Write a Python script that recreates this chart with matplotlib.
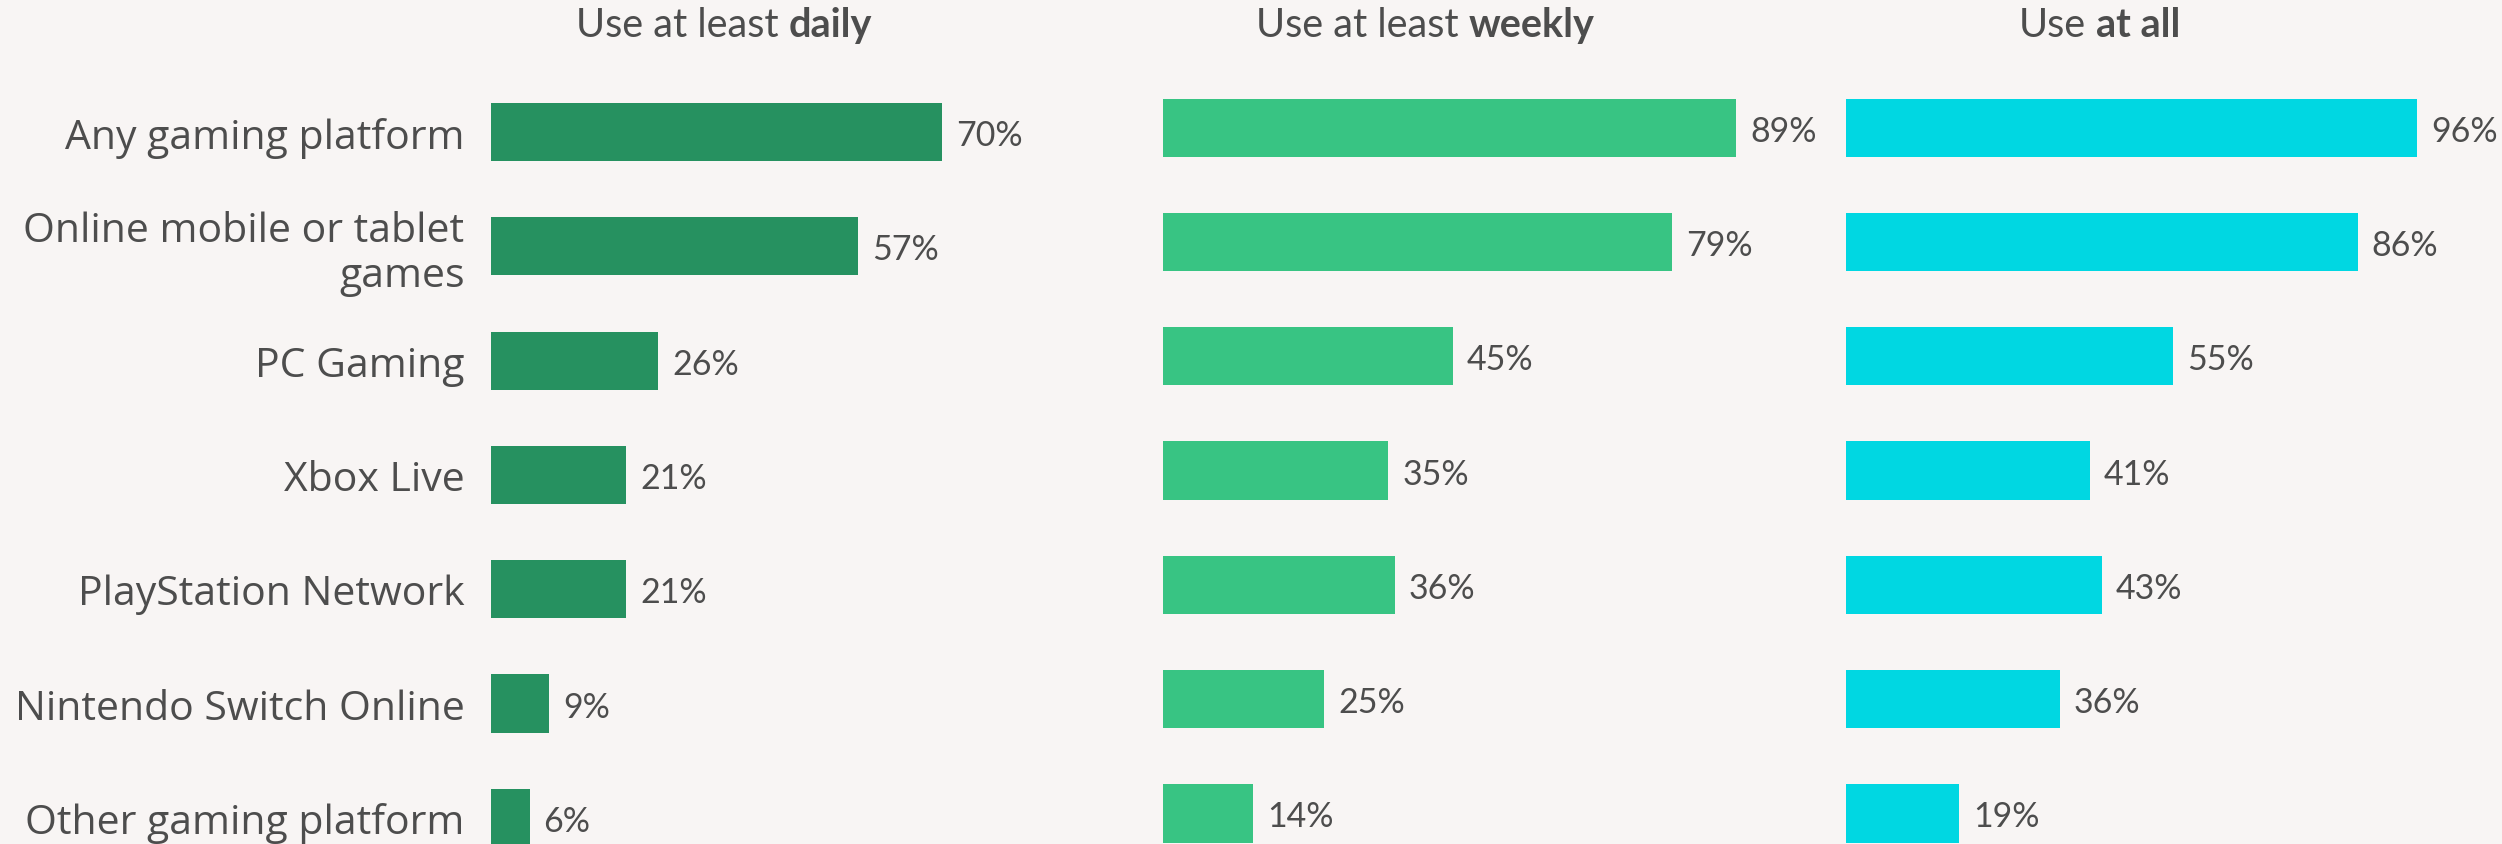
import matplotlib.pyplot as plt

# categories, top to bottom
platforms = ["Any gaming platform", "Online mobile or tablet\ngames", "PC Gaming",
             "Xbox Live", "PlayStation Network", "Nintendo Switch Online",
             "Other gaming platform"]

# % of respondents
daily = [70, 57, 26, 21, 21, 9, 6]
weekly = [89, 79, 45, 35, 36, 25, 14]
at_all = [96, 86, 55, 41, 43, 36, 19]

title_parts = [("Use at least", "daily"), ("Use at least", "weekly"), ("Use", "at all")]
colors = ["#269160", "#38C483", "#00D7E2"]

BG = "#F8F5F4"
TXT = "#4D4D4D"
W, H = 2502, 845

fig = plt.figure(figsize=(W / 100, H / 100), dpi=100, facecolor=BG)


def px_axes(left, top, width, height):
    # position axes with pixel coords measured from top-left
    return fig.add_axes([left / W, 1 - (top + height) / H, width / W, height / H])


pitch = 114.3
panels = [
    # left px, top px, width px (xlim 0..100)
    (491, 71.5 + 4.4, 644, daily),
    (1163, 71.5, 644, weekly),
    (1846, 71.5, 595, at_all),
]

rows = list(range(len(platforms)))
axes = []
for i, (left, top, width, vals) in enumerate(panels):
    ax = px_axes(left, top, width, pitch * len(platforms))
    ax.set_facecolor("none")
    ax.barh(rows, vals, height=0.51, color=colors[i])
    ax.set_xlim(0, 100)
    ax.set_ylim(len(platforms) - 0.5, -0.5)
    for r, v in zip(rows, vals):
        ax.annotate(f"{v}%", (v, r), xytext=(10, 0), textcoords="offset points",
                    va="center_baseline", ha="left", fontsize=24.5,
                    family=["Lato", "DejaVu Sans"], color=TXT, annotation_clip=False)
    for s in ax.spines.values():
        s.set_visible(False)
    ax.set_xticks([])
    if i == 0:
        ax.set_yticks(rows)
        ax.set_yticklabels(platforms, fontsize=29.5, family=["Open Sans", "DejaVu Sans"],
                           color=TXT, linespacing=1.12)
        ax.tick_params(axis="y", length=0, pad=19)
    else:
        ax.set_yticks([])
    axes.append(ax)

# titles: regular part + bold part, centred as a whole
title_centres = [724, 1425, 2100]
renderer = fig.canvas.get_renderer()
y_title = 1 - 37 / H
for (normal, bold), xc in zip(title_parts, title_centres):
    t1 = fig.text(0, y_title, normal, fontsize=28.5, family=["Lato", "DejaVu Sans"],
                  color=TXT, va="baseline", ha="left")
    t2 = fig.text(0, y_title, bold, fontsize=28.5, family=["Lato", "DejaVu Sans"],
                  weight="bold", color=TXT, va="baseline", ha="left")
    w1 = t1.get_window_extent(renderer).width
    w2 = t2.get_window_extent(renderer).width
    gap = 10
    x0 = xc - (w1 + gap + w2) / 2
    t1.set_x(x0 / W)
    t2.set_x((x0 + w1 + gap) / W)

fig.savefig("out.png", dpi=100, facecolor=BG)
